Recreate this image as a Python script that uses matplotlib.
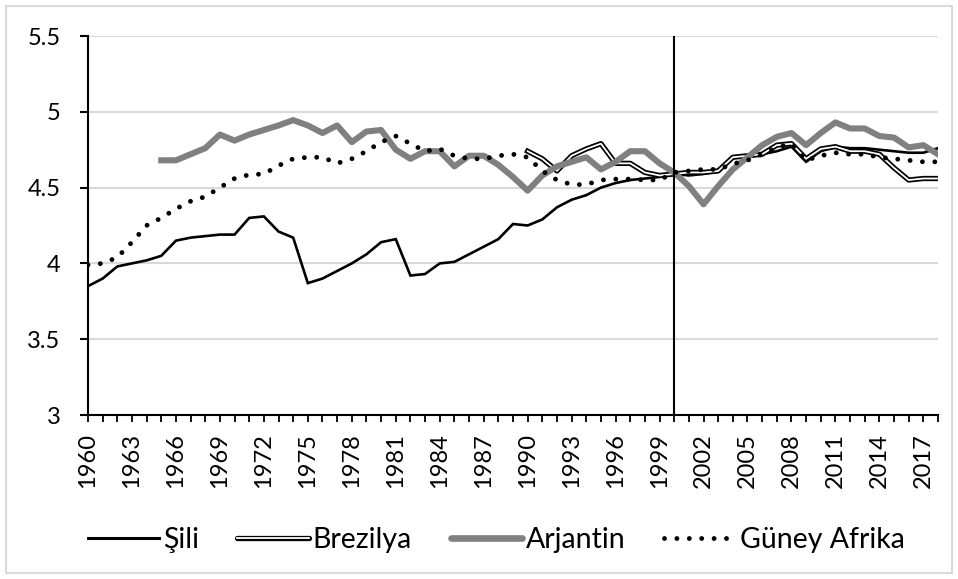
import numpy as np
import matplotlib
matplotlib.use("Agg")
import matplotlib.pyplot as plt
from matplotlib.lines import Line2D
from matplotlib.patches import Rectangle

nan = np.nan
years = list(range(1960, 2019))

sili = [3.85, 3.90, 3.98, 4.00, 4.02, 4.05, 4.15, 4.17, 4.18, 4.19,
        4.19, 4.30, 4.31, 4.21, 4.17, 3.87, 3.90, 3.95, 4.00, 4.06,
        4.14, 4.16, 3.92, 3.93, 4.00, 4.01, 4.06, 4.11, 4.16, 4.26,
        4.25, 4.29, 4.37, 4.42, 4.45, 4.50, 4.53, 4.55, 4.56, 4.57,
        4.59, 4.58, 4.59, 4.61, 4.70, 4.71, 4.72, 4.74, 4.77, 4.67,
        4.74, 4.77, 4.76, 4.76, 4.75, 4.74, 4.73, 4.73, 4.76]

brezilya = [nan] * 30 + [
        4.74, 4.69, 4.61, 4.71, 4.755, 4.79, 4.66, 4.66, 4.60, 4.58,
        4.59, 4.60, 4.60, 4.61, 4.70, 4.71, 4.72, 4.78, 4.79, 4.69,
        4.755, 4.77, 4.74, 4.74, 4.72, 4.63, 4.55, 4.56, 4.56]

arjantin = [nan] * 5 + [
        4.68, 4.68, 4.72, 4.76, 4.85,
        4.81, 4.85, 4.88, 4.91, 4.945, 4.91, 4.86, 4.91, 4.80, 4.87,
        4.88, 4.75, 4.69, 4.74, 4.74, 4.64, 4.71, 4.71, 4.65, 4.57,
        4.48, 4.58, 4.64, 4.67, 4.70, 4.62, 4.67, 4.74, 4.74, 4.66,
        4.60, 4.51, 4.39, 4.51, 4.62, 4.70, 4.78, 4.835, 4.86, 4.78,
        4.86, 4.93, 4.89, 4.89, 4.84, 4.83, 4.765, 4.78, 4.72]

guney_afrika = [3.99, 4.00, 4.04, 4.14, 4.25, 4.30, 4.36, 4.41, 4.44, 4.50,
        4.56, 4.585, 4.59, 4.645, 4.69, 4.70, 4.70, 4.66, 4.69, 4.74,
        4.80, 4.84, 4.79, 4.74, 4.755, 4.71, 4.69, 4.69, 4.71, 4.72,
        4.70, 4.61, 4.55, 4.52, 4.52, 4.55, 4.556, 4.556, 4.55, 4.55,
        4.60, 4.61, 4.62, 4.62, 4.656, 4.68, 4.72, 4.765, 4.79, 4.68,
        4.71, 4.73, 4.72, 4.72, 4.70, 4.69, 4.68, 4.67, 4.67]

labels = ["Şili", "Brezilya", "Arjantin", "Güney Afrika"]
break_year = 2000
y_ticks = [3, 3.5, 4, 4.5, 5, 5.5]
y_ticklabels = ["3", "3.5", "4", "4.5", "5", "5.5"]

plt.rcParams['font.family'] = ['Lato', 'DejaVu Sans']

fig = plt.figure(figsize=(9.58, 5.79), dpi=100)
ax = fig.add_axes([88/958, 164/579, 850/958, 379/579])

gray = '#808080'
dots = (0, (0.001, 2.55))
ax.plot(years, sili, color='black', lw=1.9, zorder=3, solid_joinstyle='miter')
ax.plot(years, brezilya, color='black', lw=3.8, zorder=4)
ax.plot(years, brezilya, color='white', lw=1.3, zorder=4.1)
ax.plot(years, arjantin, color=gray, lw=4.4, zorder=5)
ax.plot(years, guney_afrika, color='black', lw=3.5, zorder=6,
        linestyle=dots, dash_capstyle='round')
ax.axvline(break_year, color='black', lw=1.5, zorder=7)

ax.set_xlim(1960, 2018)
ax.set_ylim(3, 5.5)
ax.set_yticks(y_ticks)
ax.set_yticklabels(y_ticklabels)
ax.set_xticks(years)
ax.set_xticklabels([str(y) if (y - 1960) % 3 == 0 else "" for y in years],
                   rotation=90)

ax.grid(axis='y', color='#d9d9d9', lw=1.5, zorder=0)
ax.set_axisbelow(True)
for s in ['top', 'right']:
    ax.spines[s].set_visible(False)
for s in ['left', 'bottom']:
    ax.spines[s].set_linewidth(1.5)
    ax.spines[s].set_zorder(8)

ax.tick_params(axis='y', length=5.8, width=1.5, pad=14, labelsize=17)
ax.tick_params(axis='x', length=5, width=1.3, pad=8, labelsize=17)

h_sili = Line2D([], [], color='black', lw=2.2)
h_bz = (Line2D([], [], color='black', lw=3.8, solid_capstyle='round'),
        Line2D([], [], color='white', lw=1.3))
h_ar = Line2D([], [], color=gray, lw=4.8, solid_capstyle='round')
h_ga = Line2D([], [], color='black', lw=3.5, linestyle=dots,
              dash_capstyle='round')
fig.legend([h_sili, h_bz, h_ar, h_ga], labels, loc='center',
           bbox_to_anchor=(496/958, 1 - 540/579), ncol=4, frameon=False,
           fontsize=20.5, handlelength=2.5, handletextpad=0.15,
           columnspacing=1.35)

fig.patches.append(Rectangle((6/958, 6/579), 946/958, 567/579,
                             transform=fig.transFigure, fill=False,
                             edgecolor='#d9d9d9', lw=1.5))

fig.savefig("out.png", dpi=100)
